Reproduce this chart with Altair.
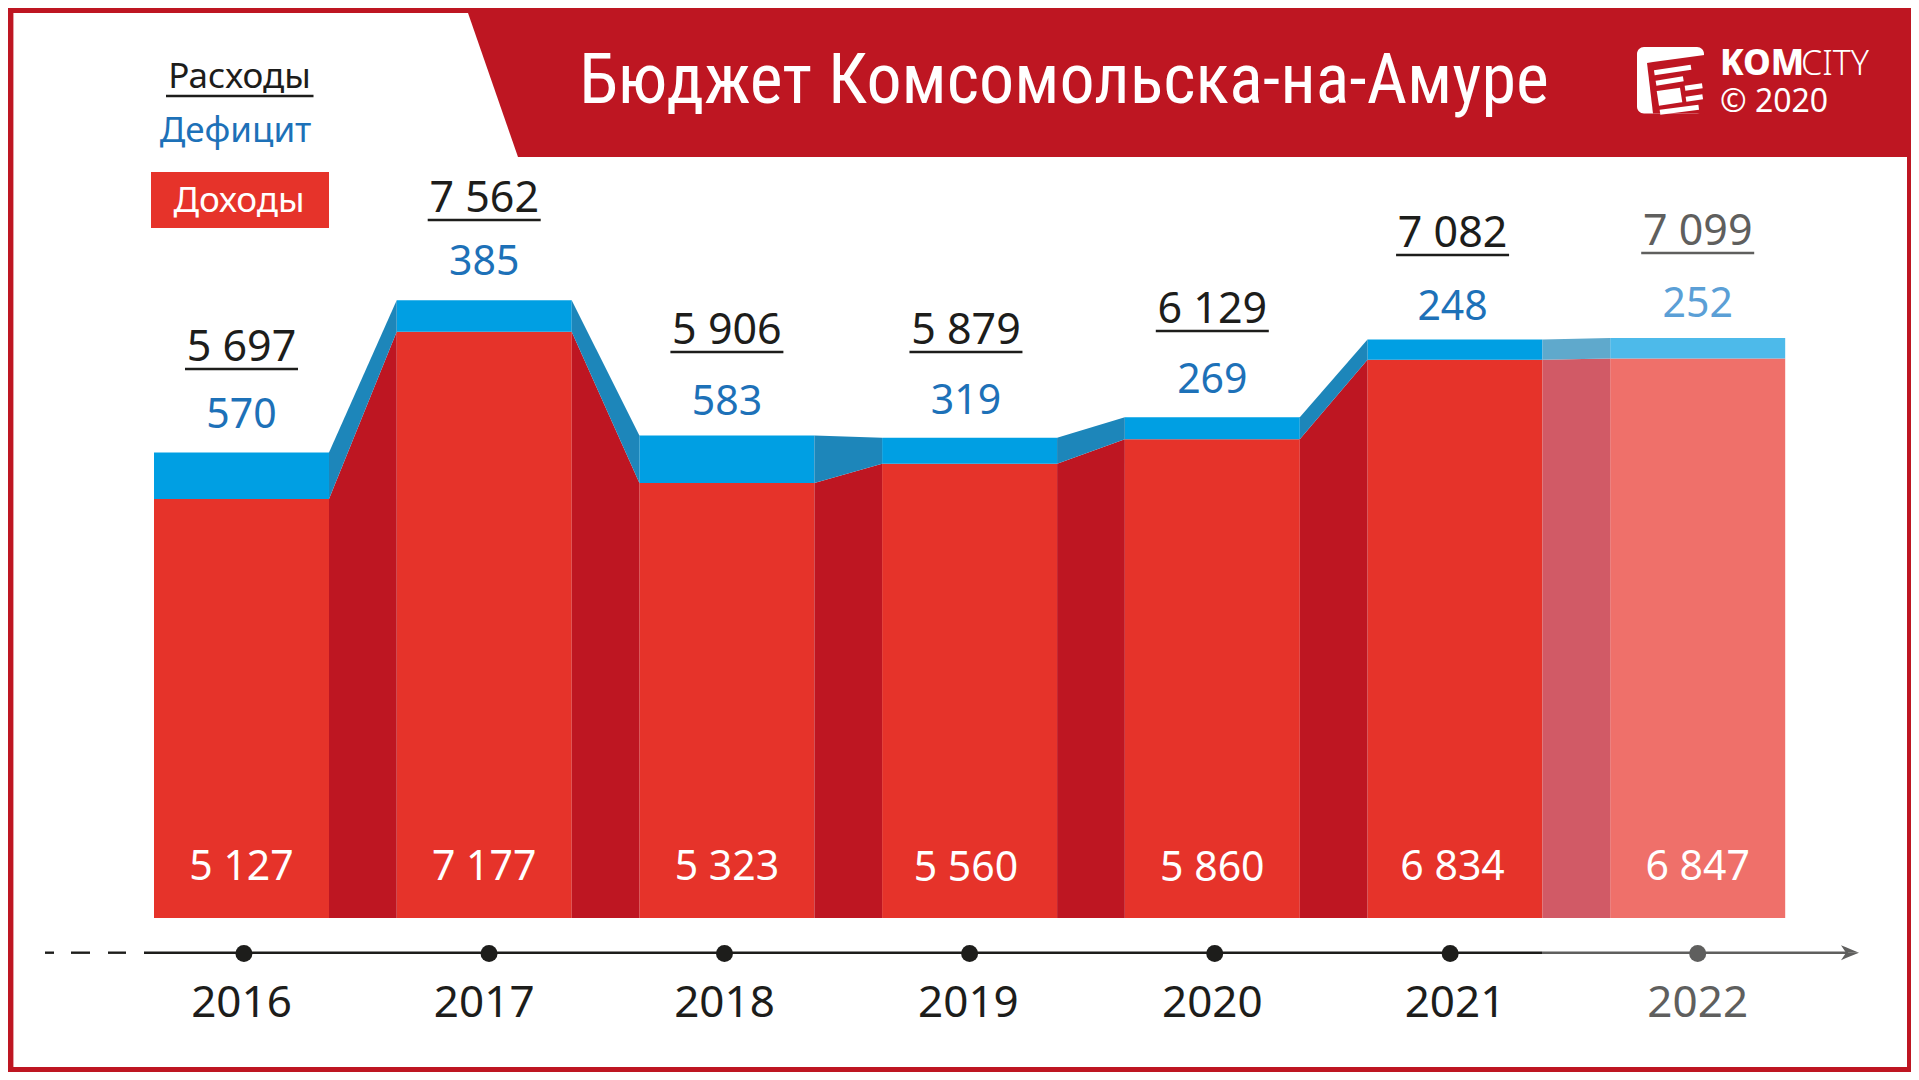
import altair as alt
import pandas as pd

# ---- chart values ----
years = [2016, 2017, 2018, 2019, 2020, 2021, 2022]
expense = [5697, 7562, 5906, 5879, 6129, 7082, 7099]
deficit = [570, 385, 583, 319, 269, 248, 252]
income = [5127, 7177, 5323, 5560, 5860, 6834, 6847]
title_text = "Бюджет Комсомольска-на-Амуре"
legend_items = ["Расходы", "Дефицит", "Доходы"]

# read label positions
label_x = [2016, 2017, 2018, 2018.985, 2020, 2020.99, 2022]
year_label_x = [2016, 2017, 2017.99, 2018.995, 2020, 2021, 2022]
dot_x = [2016.01, 2017.02, 2017.99, 2019.0, 2020.01, 2020.98, 2022.0]
total_base = [361, 212, 344, 344, 323, 247, 245]
deficit_base = [428, 275, 415, 414, 393, 320, 317]
income_base = [880, 880, 880, 881, 881, 880, 880]

# ---- layout ----
PAGE_W, PAGE_H, M = 1911, 1072, 8
X0, PX_YEAR = 241.5, 242.7
Y0, PX_VAL = 918.0, 0.0817
HALF = 0.3605
UL = 0.2328


def X(px):
    return 2016 + (px - X0) / PX_YEAR


def Y(py):
    return (Y0 - py) / PX_VAL


x_enc = alt.X("x:Q", axis=None, scale=alt.Scale(domain=[X(M), X(PAGE_W)], nice=False, zero=False))
y_enc = alt.Y("y:Q", axis=None, scale=alt.Scale(domain=[Y(PAGE_H), Y(M)], nice=False, zero=False))
col = alt.Color("c:N", scale=None, legend=None)

RED, DRED, BLUE, DBLUE = "#E6332A", "#BE1622", "#009FE3", "#1D86BA"
LRED, LBLUE, MRED, MBLUE = "#EF706A", "#4DBAEA", "#D15A66", "#5FA9CC"
TBLUE, BLACK, GRAY, LTBLUE = "#1D71B8", "#1D1D1B", "#5F5F5E", "#5B9FD6"
NUM_FONT = "Noto Sans"


def rects(rows, **kw):
    df = pd.DataFrame(rows, columns=["x", "x2", "y", "y2", "c"])
    return alt.Chart(df).mark_rect(**kw).encode(x=x_enc, x2="x2:Q", y=y_enc, y2="y2:Q", color=col)


def polys(rows):
    df = pd.DataFrame(rows, columns=["id", "x", "y", "y2", "c"])
    return alt.Chart(df).mark_area(interpolate="linear").encode(
        x=x_enc, y=y_enc, y2="y2:Q", color=col, detail="id:N"
    )


def page_rects(rows, **kw):
    return rects([(X(a), X(b), Y(c), Y(d), e) for a, b, c, d, e in rows], **kw)


def page_polys(rows):
    return polys([(i, X(x), Y(y), Y(y2), c) for i, x, y, y2, c in rows])


def texts(rows, size, **kw):
    df = pd.DataFrame(rows, columns=["x", "y", "t", "c"])
    kw.setdefault("align", "center")
    kw.setdefault("font", NUM_FONT)
    return alt.Chart(df).mark_text(baseline="alphabetic", fontSize=size, **kw).encode(
        x=x_enc, y=y_enc, text="t:N", color=col
    )


def sp(v):
    return f"{v:,}".replace(",", " ")


# ---- frame and header ----
frame = page_rects([(M, PAGE_W, M, PAGE_H, DRED), (13.4, 1907, 13, 1067, "#FFFFFF")])
header = page_polys([
    ("h", 468, 13, 13, DRED),
    ("h", 518, 157, 13, DRED),
    ("h", 1907, 157, 13, DRED),
])

# ---- bars ----
bar_rows, conn_rows = [], []
for i, yr in enumerate(years):
    last = yr == 2022
    bar_rows.append((yr - HALF, yr + HALF, 0, income[i], LRED if last else RED))
    bar_rows.append((yr - HALF, yr + HALF, income[i], expense[i], LBLUE if last else BLUE))
    if i < len(years) - 1:
        xa, xb = yr + HALF, years[i + 1] - HALF
        into_last = years[i + 1] == 2022
        cr, cb = (MRED, MBLUE) if into_last else (DRED, DBLUE)
        conn_rows += [
            (f"r{i}", xa, income[i], 0, cr),
            (f"r{i}", xb, income[i + 1], 0, cr),
            (f"b{i}", xa, expense[i], income[i], cb),
            (f"b{i}", xb, expense[i + 1], income[i + 1], cb),
        ]
bars = rects(bar_rows)
conns = polys(conn_rows)

# ---- numbers ----
total_labels = texts(
    [(label_x[i], Y(total_base[i]), sp(expense[i]), GRAY if i == 6 else BLACK) for i in range(7)],
    43,
)
deficit_labels = texts(
    [(label_x[i], Y(deficit_base[i]), str(deficit[i]), LTBLUE if i == 6 else TBLUE) for i in range(7)],
    41,
)
income_labels = texts(
    [(label_x[i], Y(income_base[i]), sp(income[i]), "#FFFFFF") for i in range(7)],
    41,
)
year_labels = texts(
    [(year_label_x[i], Y(1017), str(years[i]), GRAY if i == 6 else BLACK) for i in range(7)],
    44,
)
underlines = alt.Chart(pd.DataFrame([
    {"x": label_x[i] - UL, "x2": label_x[i] + UL, "y": Y(total_base[i] + 8), "c": GRAY if i == 6 else BLACK}
    for i in range(7)
] + [{"x": X(166), "x2": X(313.5), "y": Y(96), "c": BLACK}])).mark_rule(strokeWidth=2.4).encode(
    x=x_enc, x2="x2:Q", y=y_enc, color=col
)

# ---- timeline ----
axis_rows = [
    (X(45), X(54), BLACK), (X(71), X(90), BLACK), (X(108), X(126), BLACK),
    (X(144), X(1542), BLACK), (X(1542), X(1848), GRAY),
]
axis_lines = alt.Chart(pd.DataFrame(
    [{"x": a, "x2": b, "y": Y(952.7), "c": c} for a, b, c in axis_rows]
)).mark_rule(strokeWidth=2.4).encode(x=x_enc, x2="x2:Q", y=y_enc, color=col)
arrow = page_polys([
    ("a", 1841, 945.2, 945.2, GRAY),
    ("a", 1846, 947.3, 952.7, GRAY),
    ("a", 1859, 952.7, 952.7, GRAY),
    ("b", 1841, 960.2, 960.2, GRAY),
    ("b", 1846, 958.1, 952.7, GRAY),
    ("b", 1859, 952.7, 952.7, GRAY),
])
dots = alt.Chart(pd.DataFrame(
    [{"x": dot_x[i], "y": Y(953.5), "c": GRAY if i == 6 else BLACK} for i in range(7)]
)).mark_circle(size=290, opacity=1).encode(x=x_enc, y=y_enc, color=col)

# ---- legend ----
legend_box = page_rects([(151, 329, 172, 228, RED)])
legend_text = texts(
    [
        (X(239.5), Y(88), legend_items[0], BLACK),
        (X(235.5), Y(142), legend_items[1], TBLUE),
        (X(239), Y(212), legend_items[2], "#FFFFFF"),
    ],
    35,
)

# ---- title and logo ----
title = texts([(X(1064), Y(103), title_text, "#FFFFFF")], 70, font="Roboto Condensed")
logo_base = page_rects([(1637, 1704, 47, 113.5, "#FFFFFF")], cornerRadius=7)
logo_inner = page_polys([
    ("i", 1647, 63, 63, DRED),
    ("i", 1653, 62, 113.5, DRED),
    ("i", 1704.5, 55, 113.5, DRED),
])
logo_block = page_polys([
    ("k", 1656.7, 91, 91, "#FFFFFF"),
    ("k", 1659, 90.7, 105.7, "#FFFFFF"),
    ("k", 1680, 87.7, 102.6, "#FFFFFF"),
    ("k", 1682.3, 102.3, 102.3, "#FFFFFF"),
])
stripe_rows = []
for n, (xa, ya, xb, yb) in enumerate([
    (1654.3, 72.7, 1691, 67.3),
    (1656, 83.3, 1683.3, 78.7),
    (1685, 88.3, 1702.3, 85.7),
    (1686, 99.3, 1702.7, 96.7),
    (1660, 112.3, 1698.7, 107.3),
]):
    stripe_rows += [
        {"id": n, "x": X(xa), "y": Y(ya)},
        {"id": n, "x": X(xb), "y": Y(yb)},
    ]
logo_stripes = alt.Chart(pd.DataFrame(stripe_rows)).mark_line(
    color="#FFFFFF", strokeWidth=5, interpolate="linear"
).encode(x=x_enc, y=y_enc, detail="id:N")
logo_kom = texts([(X(1720), Y(75), "KOM", "#FFFFFF")], 35, align="left", fontWeight=800)
logo_city = texts([(X(1801), Y(75), "CITY", "#FFFFFF")], 34, align="left", fontWeight=300)
logo_year = texts([(X(1720), Y(112), "© 2020", "#FFFFFF")], 32, align="left")

chart = alt.layer(
    frame, header, bars, conns, underlines, total_labels, deficit_labels, income_labels,
    axis_lines, arrow, dots, year_labels, legend_box, legend_text, title,
    logo_base, logo_inner, logo_block, logo_stripes, logo_kom, logo_city, logo_year,
).properties(width=PAGE_W - M, height=PAGE_H - M, padding=0, background="white"
).configure_view(stroke=None)

chart.save("out.html", embed_options={"renderer": "svg", "actions": False})
